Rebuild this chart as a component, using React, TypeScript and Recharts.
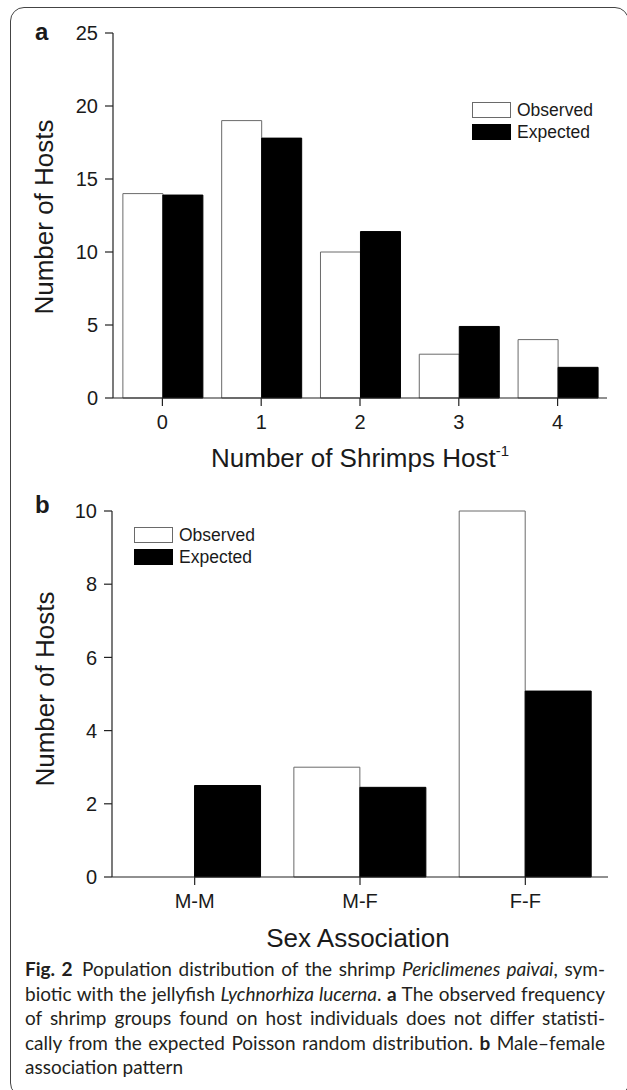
import React from "react";
import { BarChart, Bar, XAxis, YAxis, Legend } from "recharts";

// panel a: shrimps per host
const shrimpCounts = ["0", "1", "2", "3", "4"];
const observedA = [14, 19, 10, 3, 4];
const expectedA = [13.9, 17.8, 11.4, 4.9, 2.1];
const yTicksA = [0, 5, 10, 15, 20, 25];

// panel b: sex association
const sexGroups = ["M-M", "M-F", "F-F"];
const observedB = [0, 3, 10];
const expectedB = [2.5, 2.45, 5.08];
const yTicksB = [0, 2, 4, 6, 8, 10];

const seriesNames = ["Observed", "Expected"];

const AXIS_FONT = "'Liberation Sans', Arial, Helvetica, sans-serif";
const INK = "#1a1a1a";

const barStyle: Record<string, { fill: string; stroke: string }> = {
  observed: { fill: "#ffffff", stroke: "#6a6a6a" },
  expected: { fill: "#000000", stroke: "#000000" },
};

type Row = { cat: string; observed: number; expected: number };

function buildRows(cats: string[], obs: number[], exp: number[]): Row[] {
  return cats.map((cat, i) => ({ cat, observed: obs[i], expected: exp[i] }));
}

function LegendBox({ payload }: any) {
  const items = [...(payload || [])].sort(
    (a: any, b: any) => seriesNames.indexOf(a.value) - seriesNames.indexOf(b.value)
  );
  return (
    <div style={{ fontFamily: AXIS_FONT, fontSize: 17.5, color: INK }}>
      {items.map((entry: any) => {
        const s = barStyle[entry.dataKey as string];
        return (
          <div key={entry.value} style={{ display: "flex", alignItems: "center", height: 22 }}>
            <span
              style={{
                display: "inline-block",
                width: 37,
                height: 14,
                background: s.fill,
                border: `1px solid ${s.stroke}`,
                marginRight: 6,
              }}
            />
            <span>{entry.value}</span>
          </div>
        );
      })}
    </div>
  );
}

type PanelProps = {
  rows: Row[];
  ticks: number[];
  top: number;
  plotTop: number;
  plotBottom: number;
  plotLeft: number;
  plotRight: number;
  legendLeft: number;
  legendTop: number;
};

function Panel({ rows, ticks, top, plotTop, plotBottom, plotLeft, plotRight, legendLeft, legendTop }: PanelProps) {
  const h = 480;
  return (
    <div style={{ position: "absolute", left: 0, top }}>
      <BarChart
        width={627}
        height={h}
        data={rows}
        margin={{ top: plotTop, right: 627 - plotRight, left: plotLeft - 70, bottom: h - plotBottom - 70 }}
        barCategoryGap="10%"
        barGap={0}
      >
        <XAxis
          dataKey="cat"
          height={70}
          axisLine={{ stroke: "#222", strokeWidth: 1.2 }}
          tickLine={{ stroke: "#222", strokeWidth: 1.2 }}
          tickSize={8}
          tickMargin={9}
          tick={{ fill: INK, fontSize: 20, fontFamily: AXIS_FONT }}
        />
        <YAxis
          width={70}
          domain={[0, ticks[ticks.length - 1]]}
          ticks={ticks}
          interval={0}
          axisLine={{ stroke: "#222", strokeWidth: 1.2 }}
          tickLine={{ stroke: "#222", strokeWidth: 1.2 }}
          tickSize={8}
          tickMargin={7}
          tick={{ fill: INK, fontSize: 20, fontFamily: AXIS_FONT }}
        />
        <Legend
          layout="vertical"
          align="center"
          verticalAlign="middle"
          content={<LegendBox />}
          wrapperStyle={{ left: legendLeft, top: legendTop - top, width: "auto" }}
        />
        <Bar
          dataKey="observed"
          name={seriesNames[0]}
          fill={barStyle.observed.fill}
          stroke={barStyle.observed.stroke}
          strokeWidth={1}
          isAnimationActive={false}
        />
        <Bar
          dataKey="expected"
          name={seriesNames[1]}
          fill={barStyle.expected.fill}
          stroke={barStyle.expected.stroke}
          strokeWidth={1}
          isAnimationActive={false}
        />
      </BarChart>
    </div>
  );
}

const captionLines = [
  <>
    <b>Fig. 2</b>{"\u2002"}Population distribution of the shrimp <i>Periclimenes paivai</i>, sym-
  </>,
  <>
    biotic with the jellyfish <i>Lychnorhiza lucerna</i>. <b>a</b> The observed frequency
  </>,
  <>of shrimp groups found on host individuals does not differ statisti-</>,
  <>
    cally from the expected Poisson random distribution. <b>b</b> Male–female
  </>,
];

export default function App() {
  const rowsA = buildRows(shrimpCounts, observedA, expectedA);
  const rowsB = buildRows(sexGroups, observedB, expectedB);

  return (
    <div style={{ position: "absolute", left: 0, top: 0, width: 627, height: 1090, background: "#fff", overflow: "hidden" }}>
      {/* figure frame, right and bottom edges run off the page */}
      <div
        style={{
          position: "absolute",
          left: 10,
          top: 7,
          width: 619,
          height: 1090,
          border: "1.3px solid #444",
          borderRadius: 14,
          boxSizing: "border-box",
        }}
      />

      <Panel rows={rowsA} ticks={yTicksA} top={0} plotTop={33} plotBottom={398} plotLeft={113} plotRight={607} legendLeft={472} legendTop={99} />
      <Panel rows={rowsB} ticks={yTicksB} top={480} plotTop={31} plotBottom={397} plotLeft={112} plotRight={608} legendLeft={134} legendTop={524} />

      <svg
        width={627}
        height={1090}
        style={{ position: "absolute", left: 0, top: 0, pointerEvents: "none" }}
        fontFamily={AXIS_FONT}
        fill={INK}
      >
        <text x={35} y={40} fontSize={24} fontWeight="bold">a</text>
        <text x={35} y={513} fontSize={24} fontWeight="bold">b</text>

        <text x={53} y={217} fontSize={26} textAnchor="middle" transform="rotate(-90 53 217)">
          Number of Hosts
        </text>
        <text x={54} y={689} fontSize={26} textAnchor="middle" transform="rotate(-90 54 689)">
          Number of Hosts
        </text>

        <text x={360} y={467} fontSize={26} textAnchor="middle">
          Number of Shrimps Host
          <tspan fontSize={15} dy={-11}>-1</tspan>
        </text>
        <text x={358} y={947} fontSize={26} textAnchor="middle">
          Sex Association
        </text>
      </svg>

      <div
        style={{
          position: "absolute",
          left: 25,
          top: 957,
          width: 580,
          fontFamily: "Lato, 'Open Sans', sans-serif",
          fontSize: 19,
          lineHeight: "24.5px",
          color: "#231f20",
        }}
      >
        {captionLines.map((line, i) => (
          <div key={i} style={{ whiteSpace: "nowrap", textAlign: "justify", textAlignLast: "justify" }}>
            {line}
          </div>
        ))}
        <div style={{ whiteSpace: "nowrap" }}>association pattern</div>
      </div>
    </div>
  );
}
